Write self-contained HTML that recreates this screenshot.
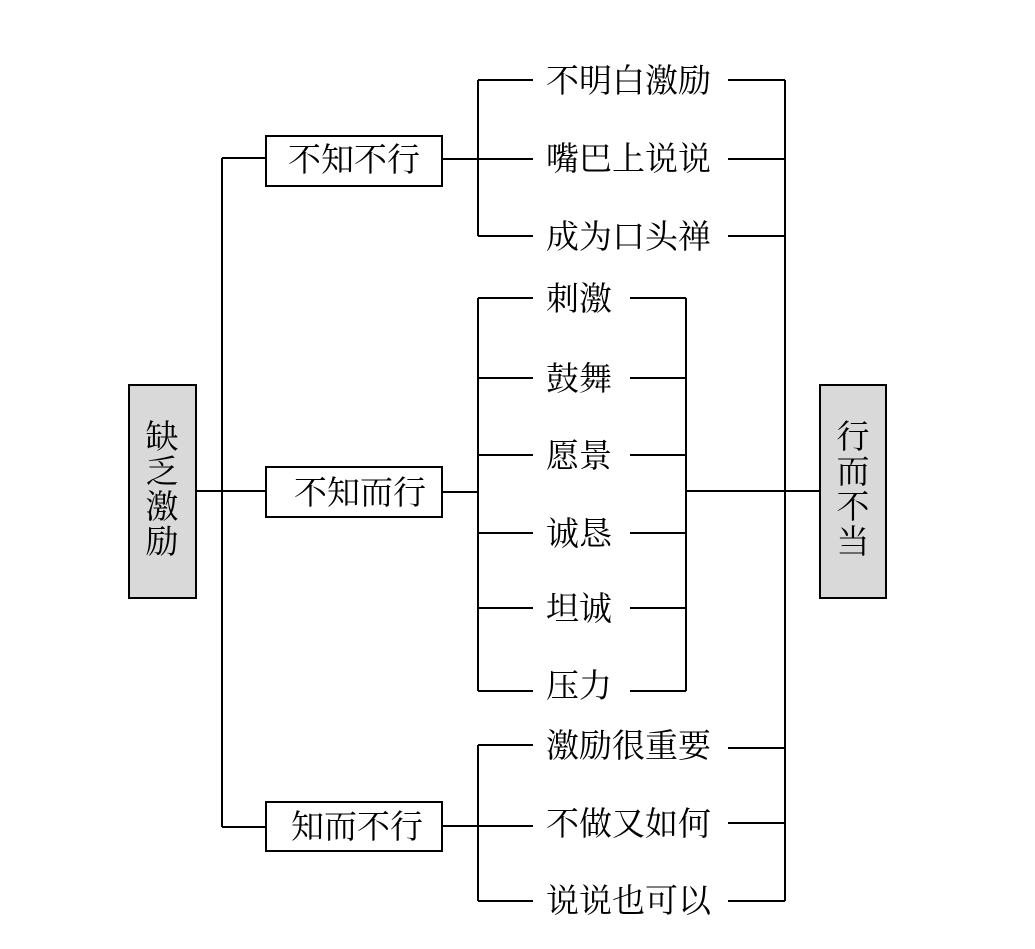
<!DOCTYPE html>
<html><head><meta charset="utf-8"><style>
html,body{margin:0;padding:0;background:#fff;}
svg{display:block;}
text{font-family:"Liberation Serif","Noto Serif CJK SC",serif;font-size:33px;fill:#000;}
</style></head><body>
<svg width="1035" height="949" viewBox="0 0 1035 949" xmlns="http://www.w3.org/2000/svg">
<g stroke="#000" stroke-width="2" fill="none">
<rect x="129" y="385" width="67" height="213" fill="#d9d9d9"/>
<rect x="820" y="385" width="66" height="213" fill="#d9d9d9"/>
<line x1="196" y1="491" x2="266" y2="491"/>
<line x1="222" y1="158" x2="222" y2="827"/>
<line x1="222" y1="158" x2="266" y2="158"/>
<line x1="222" y1="827" x2="266" y2="827"/>
<rect x="266" y="136" width="176" height="50" fill="#fff"/>
<rect x="266" y="467" width="176" height="50" fill="#fff"/>
<rect x="266" y="802" width="176" height="49" fill="#fff"/>
<line x1="442" y1="159" x2="533" y2="159"/>
<line x1="478" y1="80" x2="478" y2="236"/>
<line x1="478" y1="80" x2="533" y2="80"/>
<line x1="478" y1="236" x2="533" y2="236"/>
<line x1="728" y1="80" x2="785" y2="80"/>
<line x1="728" y1="159" x2="785" y2="159"/>
<line x1="728" y1="236" x2="785" y2="236"/>
<line x1="785" y1="80" x2="785" y2="901"/>
<line x1="442" y1="492" x2="478" y2="492"/>
<line x1="478" y1="298" x2="478" y2="691"/>
<line x1="478" y1="298" x2="533" y2="298"/>
<line x1="478" y1="378" x2="533" y2="378"/>
<line x1="478" y1="455" x2="533" y2="455"/>
<line x1="478" y1="533" x2="533" y2="533"/>
<line x1="478" y1="608" x2="533" y2="608"/>
<line x1="478" y1="691" x2="533" y2="691"/>
<line x1="630" y1="298" x2="686" y2="298"/>
<line x1="630" y1="378" x2="686" y2="378"/>
<line x1="630" y1="455" x2="686" y2="455"/>
<line x1="630" y1="533" x2="686" y2="533"/>
<line x1="630" y1="608" x2="686" y2="608"/>
<line x1="630" y1="691" x2="686" y2="691"/>
<line x1="686" y1="298" x2="686" y2="691"/>
<line x1="686" y1="491" x2="820" y2="491"/>
<line x1="442" y1="826" x2="533" y2="826"/>
<line x1="478" y1="745" x2="478" y2="901"/>
<line x1="478" y1="745" x2="533" y2="745"/>
<line x1="478" y1="901" x2="533" y2="901"/>
<line x1="728" y1="748" x2="785" y2="748"/>
<line x1="728" y1="823" x2="785" y2="823"/>
<line x1="728" y1="901" x2="785" y2="901"/>
</g>
<g>
<text x="162" y="448" text-anchor="middle">缺</text>
<text x="162" y="483" text-anchor="middle">乏</text>
<text x="162" y="518" text-anchor="middle">激</text>
<text x="162" y="553" text-anchor="middle">励</text>
<text x="853" y="448" text-anchor="middle">行</text>
<text x="853" y="483" text-anchor="middle">而</text>
<text x="853" y="518" text-anchor="middle">不</text>
<text x="853" y="553" text-anchor="middle">当</text>
<text x="354" y="171" text-anchor="middle">不知不行</text>
<text x="360" y="504" text-anchor="middle">不知而行</text>
<text x="357" y="838" text-anchor="middle">知而不行</text>
<text x="546" y="92">不明白激励</text>
<text x="546" y="170">嘴巴上说说</text>
<text x="546" y="248">成为口头禅</text>
<text x="546" y="310">刺激</text>
<text x="546" y="390">鼓舞</text>
<text x="546" y="467">愿景</text>
<text x="546" y="545">诚恳</text>
<text x="546" y="620">坦诚</text>
<text x="546" y="697">压力</text>
<text x="546" y="757">激励很重要</text>
<text x="546" y="835">不做又如何</text>
<text x="546" y="912">说说也可以</text>
</g>
</svg>
</body></html>
